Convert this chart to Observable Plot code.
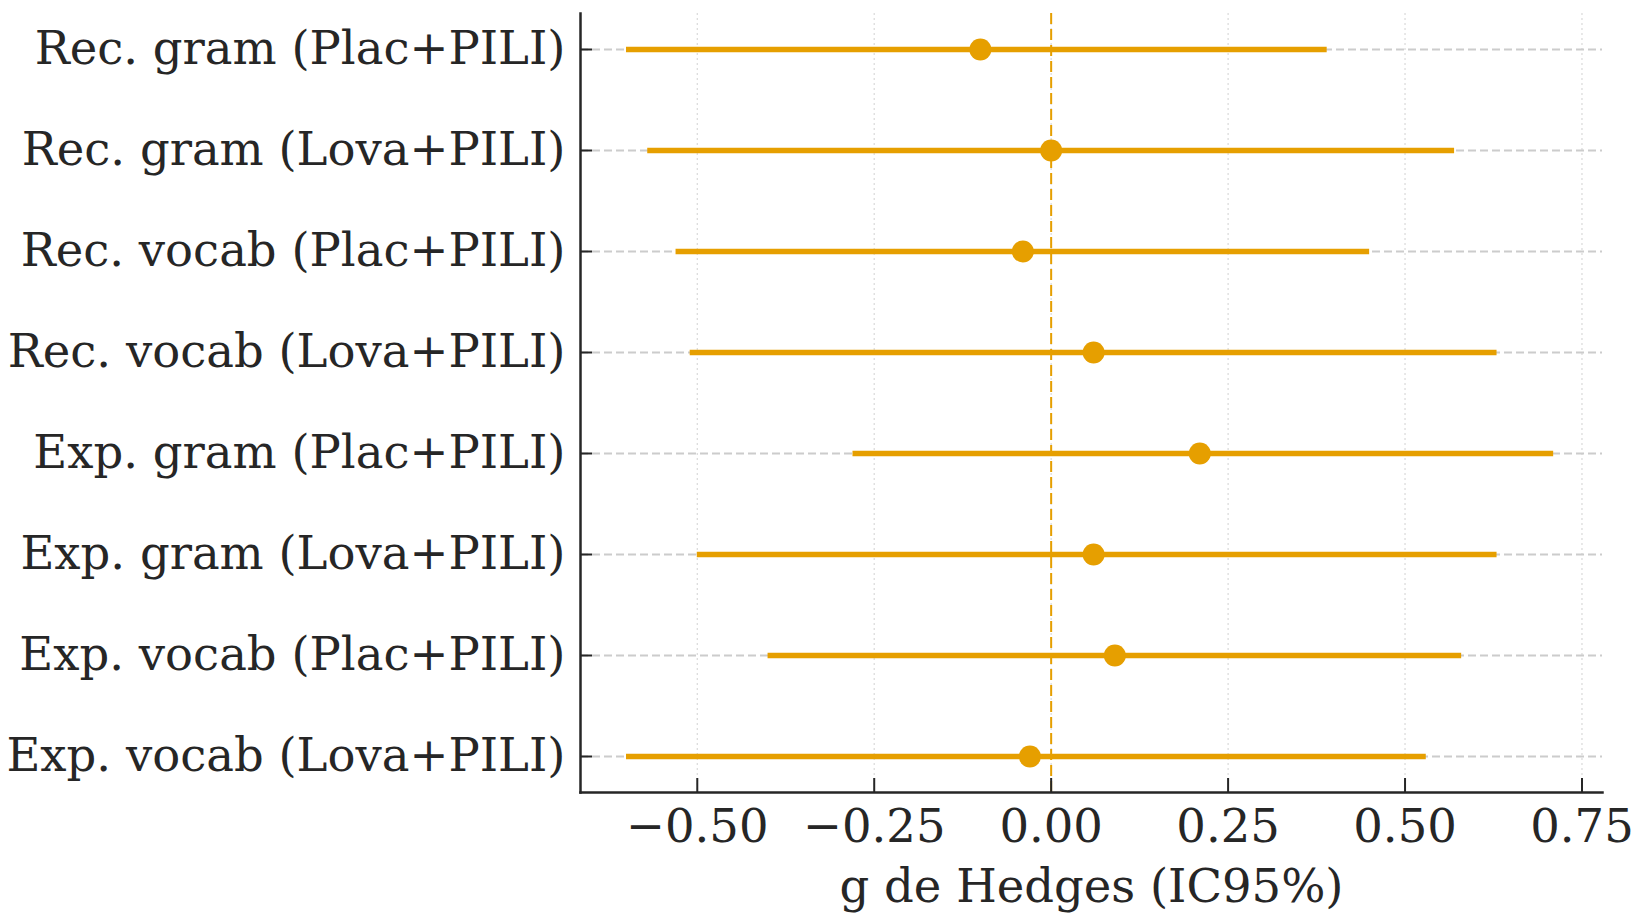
<!DOCTYPE html>
<html>
<head>
<meta charset="utf-8">
<script src="https://cdn.jsdelivr.net/npm/d3@7"></script>
<script src="https://cdn.jsdelivr.net/npm/@observablehq/plot@0.6"></script>
<style>
  html, body { margin: 0; padding: 0; background: #fff; }
  #chart svg { display: block; }
</style>
</head>
<body>
<div id="chart"></div>
<script>
const labels = [
  "Rec. gram (Plac+PILI)",
  "Rec. gram (Lova+PILI)",
  "Rec. vocab (Plac+PILI)",
  "Rec. vocab (Lova+PILI)",
  "Exp. gram (Plac+PILI)",
  "Exp. gram (Lova+PILI)",
  "Exp. vocab (Plac+PILI)",
  "Exp. vocab (Lova+PILI)"
];
const g     = [-0.10, 0.00, -0.04, 0.06, 0.21, 0.06, 0.09, -0.03];
const lower = [-0.60, -0.57, -0.53, -0.51, -0.28, -0.50, -0.40, -0.60];
const upper = [0.39, 0.57, 0.45, 0.63, 0.71, 0.63, 0.58, 0.53];
const xTicks = [-0.5, -0.25, 0, 0.25, 0.5, 0.75];
const xLabel = "g de Hedges (IC95%)";

const data = labels.map((label, i) => ({label, g: g[i], lo: lower[i], hi: upper[i]}));
const orange = "#E69F00";
const ink = "#262626";
const fs = 46.5;

const chart = Plot.plot({
  width: 1650,
  height: 921,
  marginLeft: 580,
  marginRight: 48,
  marginTop: 13,
  marginBottom: 129,
  style: {fontFamily: "'DejaVu Serif', serif", fontSize: fs + "px", color: ink, background: "#fff"},
  x: {domain: [-0.665, 0.779], ticks: xTicks},
  y: {type: "point", domain: labels, padding: 0.35},
  marks: [
    Plot.ruleX(xTicks, {stroke: "#d9d9d9", strokeWidth: 1.2, strokeDasharray: "2,3"}),
    Plot.ruleY(labels, {stroke: "#cccccc", strokeWidth: 2.2, strokeDasharray: "8,4"}),
    Plot.ruleX([0], {stroke: orange, strokeWidth: 2, strokeDasharray: "11,5"}),
    Plot.ruleY(data, {y: "label", x1: "lo", x2: "hi", stroke: orange, strokeWidth: 5.5}),
    Plot.dot(data, {x: "g", y: "label", r: 11, fill: orange, stroke: null}),
    Plot.axisY({tickSize: 12, dx: 12, tickFormat: () => "", stroke: ink, strokeWidth: 2, label: null}),
    Plot.axisY({tickSize: 0, tickPadding: 15, fontSize: fs, fill: ink, label: null}),
    Plot.axisX({ticks: xTicks, tickSize: 14, dy: -14, tickFormat: () => "", stroke: ink, strokeWidth: 2, label: null}),
    Plot.axisX({ticks: xTicks, tickSize: 0, tickPadding: 16, tickFormat: d3.format(".2f"), fontSize: fs, fill: ink, label: null}),
    Plot.frame({anchor: "left", stroke: ink, strokeWidth: 2.5}),
    Plot.frame({anchor: "bottom", stroke: ink, strokeWidth: 2.5}),
    Plot.text([xLabel], {frameAnchor: "bottom", dy: 95, fontSize: fs, fill: ink, lineAnchor: "middle"})
  ]
});
document.getElementById("chart").appendChild(chart);
</script>
</body>
</html>
